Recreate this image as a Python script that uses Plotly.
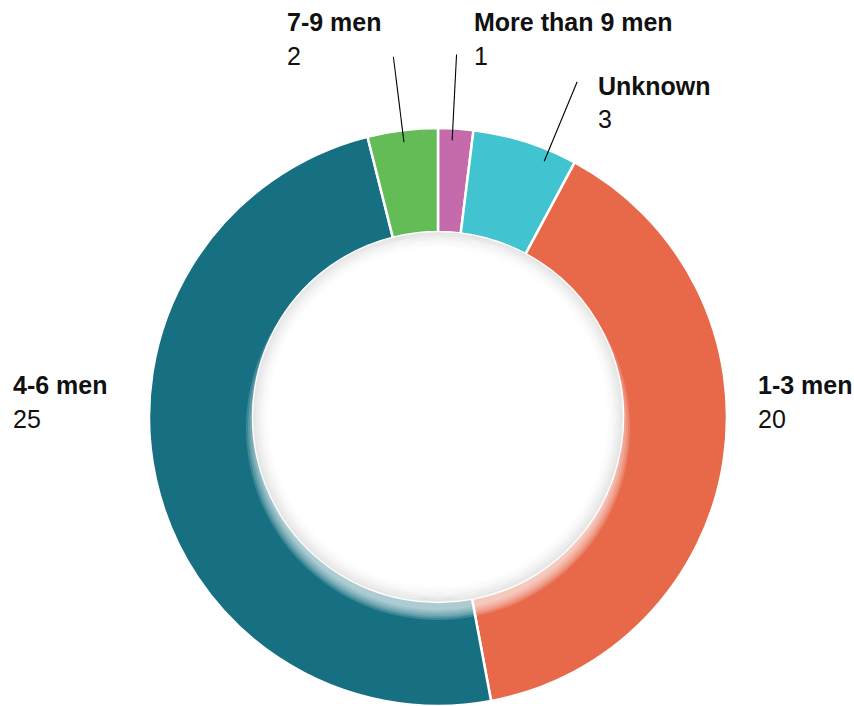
import math
import plotly.graph_objects as go

# Group sizes, listed clockwise from 12 o'clock
categories = ["More than 9 men", "Unknown", "1-3 men", "4-6 men", "7-9 men"]
counts = [1, 3, 20, 25, 2]
colors = ["#C56BAB", "#41C4CF", "#E8684A", "#177082", "#63BC56"]

W, H = 854, 706
CX, CY = 438, 417          # donut centre in px (from top-left)
R_OUT = 289                # outer radius in px
HOLE = 0.64
R_IN = R_OUT * HOLE

# label placement (left edge x, name-line centre y, value-line centre y) in px
label_pos = {
    "More than 9 men": (472, 22, 56),
    "Unknown": (596, 86, 119),
    "1-3 men": (756, 385, 419),
    "4-6 men": (11, 385, 419),
    "7-9 men": (285, 22, 56),
}
# slices whose labels get a leader line, with an angular tweak in degrees
leaders = {"7-9 men": 0.0, "More than 9 men": -0.6, "Unknown": 4.9}

FONT = "Liberation Sans, Arial, sans-serif"


def px(x):
    return x / W


def py(y):
    return 1 - y / H


fig = go.Figure(
    go.Pie(
        labels=categories,
        values=counts,
        sort=False,
        direction="clockwise",
        rotation=0,
        hole=HOLE,
        textinfo="none",
        hoverinfo="label+value",
        marker=dict(colors=colors, line=dict(color="white", width=2.5)),
        domain=dict(x=[px(CX - R_OUT), px(CX + R_OUT)],
                    y=[py(CY + R_OUT), py(CY - R_OUT)]),
        showlegend=False,
    )
)

shapes = []
cxp, cyp = px(CX), py(CY)

# soft light glow spilling below the hole
for k, r in enumerate(range(182, 194, 2)):
    shapes.append(dict(
        type="circle", xref="paper", yref="paper",
        xsizemode="pixel", ysizemode="pixel",
        xanchor=cxp, yanchor=cyp,
        x0=-r, x1=r, y0=-r - 11, y1=r - 11,
        fillcolor="rgba(255,255,255,0.16)", line=dict(width=0),
        layer="above",
    ))

# white disc of the hole
shapes.append(dict(
    type="circle", xref="paper", yref="paper",
    xsizemode="pixel", ysizemode="pixel",
    xanchor=cxp, yanchor=cyp,
    x0=-R_IN, x1=R_IN, y0=-R_IN, y1=R_IN,
    fillcolor="white", line=dict(width=0), layer="above",
))

# inner shading along the rim of the hole
steps = 20
for i in range(steps):
    r = R_IN - 0.5 - i * 0.9
    a = 0.075 * (1 - i / steps) ** 1.6
    shapes.append(dict(
        type="circle", xref="paper", yref="paper",
        xsizemode="pixel", ysizemode="pixel",
        xanchor=cxp, yanchor=cyp,
        x0=-r, x1=r, y0=-r, y1=r,
        fillcolor="rgba(0,0,0,0)",
        line=dict(color=f"rgba(0,0,0,{a:.3f})", width=1.3),
        layer="above",
    ))

# leader lines drawn radially through each small slice's middle
total = sum(counts)
cum = 0
mid_angle = {}
for name, v in zip(categories, counts):
    mid_angle[name] = (cum + v / 2) / total * 360
    cum += v

for name, tweak in leaders.items():
    ang = math.radians(mid_angle[name] + tweak)
    r0, r1 = 363, 277
    shapes.append(dict(
        type="line", xref="paper", yref="paper",
        xsizemode="pixel", ysizemode="pixel",
        xanchor=cxp, yanchor=cyp,
        x0=r0 * math.sin(ang), y0=r0 * math.cos(ang),
        x1=r1 * math.sin(ang), y1=r1 * math.cos(ang),
        line=dict(color="black", width=1.1), layer="above",
    ))

annotations = []
for name, v in zip(categories, counts):
    lx, ny, vy = label_pos[name]
    annotations.append(dict(
        x=px(lx), y=py(ny), xref="paper", yref="paper",
        xanchor="left", yanchor="middle", showarrow=False,
        text=f"<b>{name}</b>",
        font=dict(family=FONT, size=25, color="#111111"),
    ))
    annotations.append(dict(
        x=px(lx), y=py(vy), xref="paper", yref="paper",
        xanchor="left", yanchor="middle", showarrow=False,
        text=str(v),
        font=dict(family=FONT, size=25, color="#111111"),
    ))

fig.update_layout(
    width=W, height=H,
    margin=dict(l=0, r=0, t=0, b=0),
    paper_bgcolor="white",
    plot_bgcolor="white",
    shapes=shapes,
    annotations=annotations,
)

fig.write_html("out.html")
